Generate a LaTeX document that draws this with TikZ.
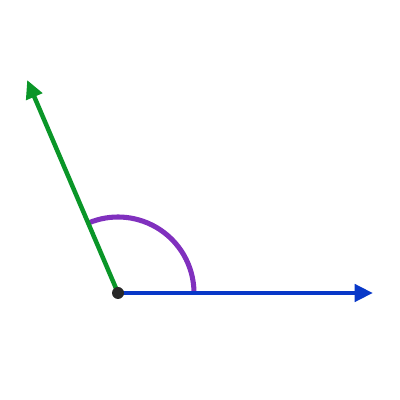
\documentclass[tikz,border=0pt]{standalone}
\usetikzlibrary{arrows.meta,calc}
\definecolor{rayblue}{RGB}{8,56,200}
\definecolor{raygreen}{RGB}{10,150,40}
\definecolor{arcpurple}{RGB}{128,48,190}
\definecolor{dotgray}{RGB}{40,40,40}
\tikzset{ray/.style={line width=3.2pt,-{Triangle[length=13pt,width=12pt]}}}
\begin{document}
\begin{tikzpicture}
        \useasboundingbox (0,0) rectangle (10,10);
        \coordinate (O) at (2.95,2.675);
        \coordinate (A) at (9.325,2.675);
        \coordinate (B) at ($(O)+(113.1:5.79)$);
        \draw[color=arcpurple, line width=3.6pt] (O) ++(1.9,0) arc[start angle=0, end angle=113.1, radius=1.9cm];
        \draw[ray, color=rayblue] (O) -- (A);
        \draw[ray, color=raygreen] (O) -- (B);
        \fill[color=dotgray] (O) circle (0.15cm);
    \end{tikzpicture}
\end{document}
